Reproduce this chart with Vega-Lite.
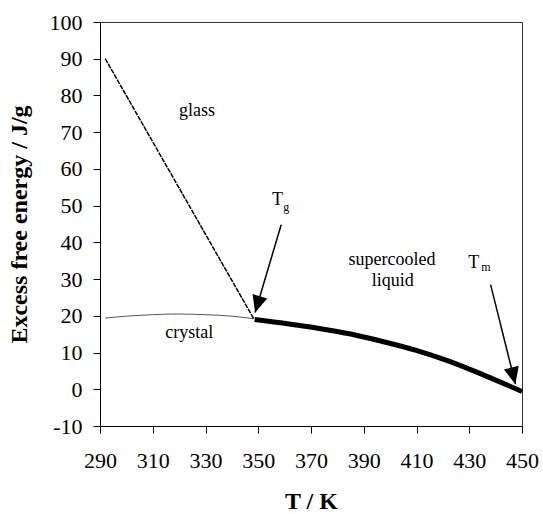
{
  "$schema": "https://vega.github.io/schema/vega-lite/v6.json",
  "width": 422,
  "height": 404,
  "autosize": "none",
  "padding": {"left": 100, "top": 22, "right": 21, "bottom": 88},
  "background": "white",
  "config": {
    "font": "Liberation Serif",
    "view": {"stroke": "#333", "strokeWidth": 1},
    "axis": {"labelOverlap": false, "labelSeparation": 0, "grid": false}
  },
  "datasets": {
    "glass": [{"T": 292, "G": 90}, {"T": 348.3, "G": 19.2}],
    "crystal": [
      {"T": 292, "G": 19.4}, {"T": 300, "G": 19.9}, {"T": 310, "G": 20.3},
      {"T": 319, "G": 20.5}, {"T": 330, "G": 20.3}, {"T": 340, "G": 19.9},
      {"T": 348.3, "G": 19.2}
    ],
    "liquid": [
      {"T": 348.6, "G": 19.0}, {"T": 372, "G": 16.7}, {"T": 384.6, "G": 15.1},
      {"T": 397.2, "G": 13.0}, {"T": 409.9, "G": 10.6}, {"T": 422.5, "G": 7.6},
      {"T": 435.1, "G": 4.0}, {"T": 450, "G": -0.6}
    ],
    "arrows": [
      {"T": 358.7, "G": 44.8, "T2": 348.8, "G2": 20.9, "dir": 16.5},
      {"T": 438.1, "G": 28.5, "T2": 447.5, "G2": 1.4, "dir": 346}
    ],
    "labels": [
      {"T": 326.8, "G": 75.7, "text": "glass"},
      {"T": 323.8, "G": 15.4, "text": "crystal"},
      {"T": 400.7, "G": 35.3, "text": "supercooled"},
      {"T": 401.0, "G": 29.4, "text": "liquid"},
      {"T": 357.3, "G": 51.6, "text": "T"},
      {"T": 431.7, "G": 34.4, "text": "T"}
    ],
    "subs": [
      {"T": 360.6, "G": 49.6, "text": "g"},
      {"T": 436.3, "G": 33.2, "text": "m"}
    ]
  },
  "encoding": {
    "x": {"field": "T", "type": "quantitative", "scale": {"domain": [290, 450], "nice": false, "zero": false},
          "axis": {"values": [290, 310, 330, 350, 370, 390, 410, 430, 450], "title": "T / K",
                   "grid": false, "domainColor": "#000", "tickColor": "#000", "tickSize": 7,
                   "labelFont": "Liberation Serif", "labelFontSize": 22, "labelColor": "#000",
                   "labelOverlap": false, "labelFlush": false, "labelPadding": 17,
                   "titleFont": "Liberation Serif", "titleFontSize": 24, "titleFontWeight": "bold", "titleColor": "#000",
                   "titlePadding": 18}},
    "y": {"field": "G", "type": "quantitative", "scale": {"domain": [-10, 100], "nice": false, "zero": false},
          "axis": {"values": [-10, 0, 10, 20, 30, 40, 50, 60, 70, 80, 90, 100], "title": "Excess free energy / J/g",
                   "grid": false, "domainColor": "#000", "tickColor": "#000", "tickSize": 7,
                   "labelFont": "Liberation Serif", "labelFontSize": 22, "labelColor": "#000",
                   "labelOverlap": false, "labelFlush": false, "labelPadding": 11,
                   "labelExpr": "'' + datum.value",
                   "titleFont": "Liberation Serif", "titleFontSize": 24, "titleFontWeight": "bold", "titleColor": "#000",
                   "titlePadding": 18}}
  },
  "layer": [
    {
      "data": {"name": "crystal"},
      "mark": {"type": "line", "color": "#555", "strokeWidth": 1, "interpolate": "monotone"}
    },
    {
      "data": {"name": "glass"},
      "mark": {"type": "line", "color": "#000", "strokeWidth": 1.5, "strokeDash": [5, 1]}
    },
    {
      "data": {"name": "liquid"},
      "mark": {"type": "line", "color": "#000", "strokeWidth": 5, "interpolate": "monotone", "strokeCap": "butt"}
    },
    {
      "data": {"name": "arrows"},
      "mark": {"type": "rule", "color": "#000", "strokeWidth": 1.5},
      "encoding": {
        "x2": {"field": "T2"},
        "y2": {"field": "G2"}
      }
    },
    {
      "data": {"name": "arrows"},
      "mark": {"type": "point", "shape": "M0,0 L-0.45,-1 L0.45,-1 Z", "size": 1156, "filled": true, "color": "#000", "opacity": 1},
      "encoding": {
        "x": {"field": "T2", "type": "quantitative"},
        "y": {"field": "G2", "type": "quantitative"},
        "angle": {"field": "dir", "type": "quantitative", "scale": null}
      }
    },
    {
      "data": {"name": "labels"},
      "mark": {"type": "text", "fontSize": 18, "font": "Liberation Serif", "color": "#000"},
      "encoding": {
        "text": {"field": "text"}
      }
    },
    {
      "data": {"name": "subs"},
      "mark": {"type": "text", "fontSize": 12, "font": "Liberation Serif", "color": "#000"},
      "encoding": {
        "text": {"field": "text"}
      }
    }
  ]
}
